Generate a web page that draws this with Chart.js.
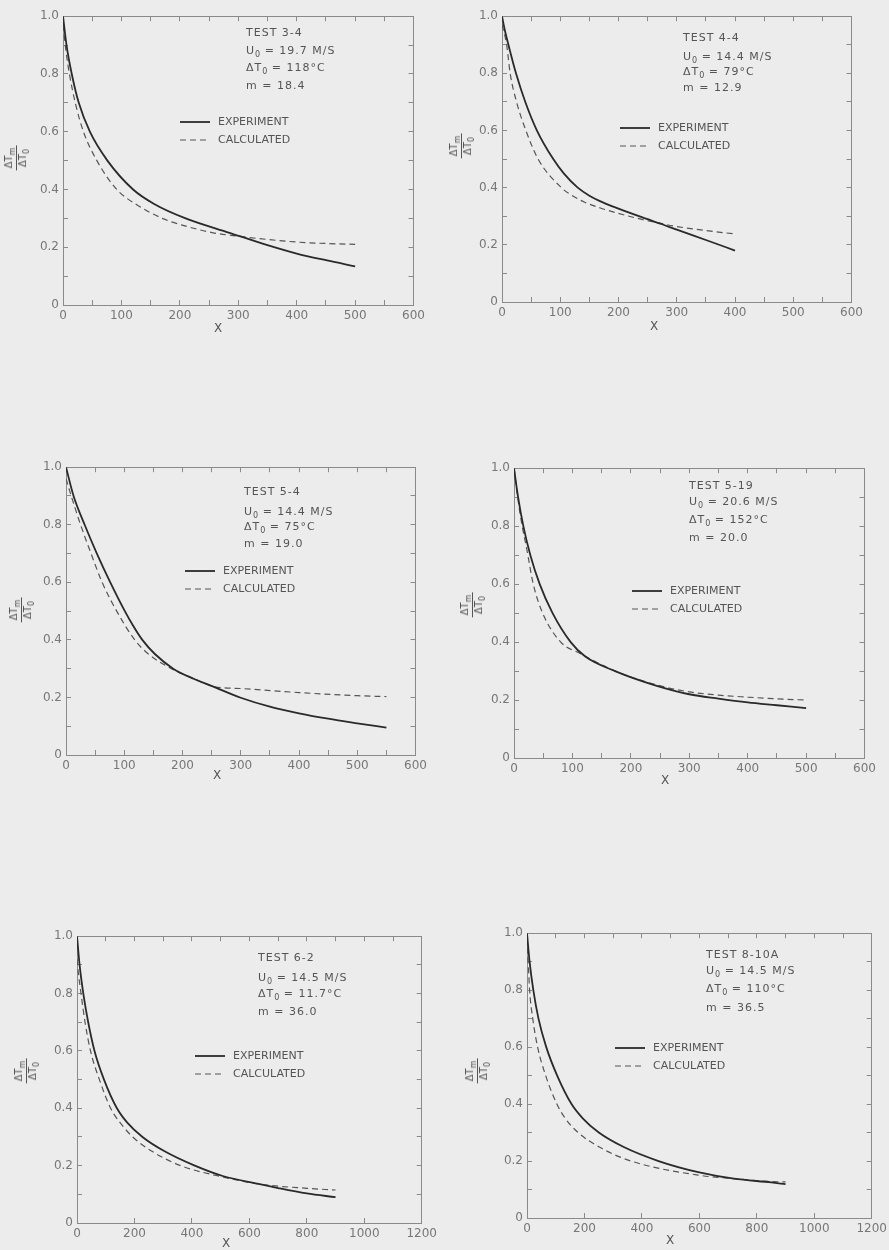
<!DOCTYPE html>
<html>
<head>
<meta charset="utf-8">
<script src="https://cdn.jsdelivr.net/npm/chart.js@4.4.1/dist/chart.umd.min.js"></script>
<style>
  html, body { margin: 0; padding: 0; }
  body { width: 889px; height: 1250px; background: #ececec; position: relative; overflow: hidden;
         font-family: 'DejaVu Sans', sans-serif; color: #555; }
  canvas { position: absolute; }
  .note { position: absolute; font-size: 11px; line-height: 14px; letter-spacing: 1px; white-space: nowrap; }
  .note sub, .ylab sub { font-size: 8px; vertical-align: -3px; line-height: 0; letter-spacing: 0; }
  .xlab { position: absolute; font-size: 12px; line-height: 14px; transform: translate(-50%, -50%); }
  .ylab { position: absolute; font-size: 10px; line-height: 12px; text-align: center; white-space: nowrap;
          transform: translate(-50%, -50%) rotate(-90deg); }
  .ylab .num { border-bottom: 1px solid #555; padding: 0 2px 1px; }
</style>
</head>
<body>
<script>
// panel info
const testNames = ['TEST 3-4', 'TEST 4-4', 'TEST 5-4', 'TEST 5-19', 'TEST 6-2', 'TEST 8-10A'];
const u0Values = ['19.7', '14.4', '14.4', '20.6', '14.5', '14.5'];
const dT0Values = ['118', '79', '75', '152', '11.7', '110'];
const mValues = ['18.4', '12.9', '19.0', '20.0', '36.0', '36.5'];
const xMaxes = [600, 600, 600, 600, 1200, 1200];
const xSteps = [50, 50, 50, 50, 100, 100];
const seriesNames = ['EXPERIMENT', 'CALCULATED'];

// test 3-4
const exp34X = [0, 6, 15, 27, 46, 76, 120, 156, 210, 285, 350, 400, 450, 500];
const exp34Y = [1.0, 0.90, 0.80, 0.70, 0.60, 0.50, 0.40, 0.35, 0.30, 0.25, 0.207, 0.178, 0.155, 0.134];
const calc34X = [0, 5, 11, 21, 35, 58, 92, 124, 170, 207, 257, 300, 350, 400, 450, 500];
const calc34Y = [0.97, 0.88, 0.80, 0.70, 0.60, 0.50, 0.40, 0.35, 0.30, 0.275, 0.25, 0.238, 0.227, 0.218, 0.213, 0.21];

// test 4-4
const exp44X = [0, 5, 11, 24, 40, 60, 88, 106, 130, 150, 175, 200, 240, 275, 300, 350, 400];
const exp44Y = [1.0, 0.95, 0.90, 0.80, 0.70, 0.60, 0.50, 0.45, 0.40, 0.372, 0.347, 0.327, 0.297, 0.272, 0.253, 0.217, 0.18];
const calc44X = [0, 8, 14, 25, 41, 62, 102, 120, 141, 170, 200, 240, 275, 300, 350, 400];
const calc44Y = [0.97, 0.90, 0.80, 0.70, 0.60, 0.50, 0.40, 0.373, 0.35, 0.328, 0.31, 0.289, 0.274, 0.264, 0.25, 0.238];

// test 5-4
const exp54X = [0, 13, 32, 53, 76, 101, 115, 131, 153, 184, 220, 255, 300, 350, 400, 450, 500, 550];
const exp54Y = [1.0, 0.90, 0.80, 0.70, 0.60, 0.50, 0.45, 0.40, 0.35, 0.30, 0.264, 0.236, 0.199, 0.168, 0.145, 0.126, 0.11, 0.095];
const calc54X = [0, 9, 25, 43, 62, 87, 118, 142, 181, 225, 255, 300, 400, 500, 550];
const calc54Y = [0.96, 0.90, 0.80, 0.70, 0.60, 0.50, 0.40, 0.35, 0.30, 0.26, 0.237, 0.231, 0.217, 0.206, 0.203];

// test 5-19
const exp519X = [0, 7, 16, 28, 44, 66, 97, 122, 173, 243, 300, 350, 400, 450, 500];
const exp519Y = [1.0, 0.90, 0.80, 0.70, 0.60, 0.50, 0.40, 0.35, 0.30, 0.25, 0.22, 0.205, 0.192, 0.182, 0.172];
const calc519X = [0, 7, 14, 21, 33, 49, 80, 114, 173, 243, 300, 350, 400, 450, 500];
const calc519Y = [1.0, 0.89, 0.80, 0.73, 0.60, 0.50, 0.40, 0.36, 0.30, 0.253, 0.228, 0.217, 0.21, 0.204, 0.2];

// test 6-2
const exp62X = [0, 9, 22, 39, 61, 94, 139, 175, 228, 305, 410, 510, 640, 700, 800, 900];
const exp62Y = [1.0, 0.90, 0.80, 0.70, 0.60, 0.50, 0.40, 0.35, 0.30, 0.25, 0.20, 0.163, 0.135, 0.122, 0.103, 0.09];
const calc62X = [0, 5, 14, 28, 47, 78, 117, 150, 194, 261, 361, 510, 640, 800, 900];
const calc62Y = [0.92, 0.87, 0.80, 0.70, 0.60, 0.50, 0.40, 0.35, 0.30, 0.25, 0.20, 0.16, 0.135, 0.121, 0.115];

// test 8-10A
const exp810X = [0, 9, 22, 40, 67, 105, 155, 194, 250, 335, 458, 600, 720, 850, 900];
const exp810Y = [1.0, 0.90, 0.80, 0.70, 0.60, 0.50, 0.40, 0.35, 0.30, 0.25, 0.20, 0.16, 0.138, 0.125, 0.119];
const calc810X = [0, 5, 9, 20, 37, 65, 104, 133, 178, 250, 362, 600, 720, 850, 900];
const calc810Y = [0.95, 0.88, 0.80, 0.70, 0.60, 0.50, 0.40, 0.35, 0.30, 0.25, 0.20, 0.15, 0.138, 0.128, 0.127];

const expX = [exp34X, exp44X, exp54X, exp519X, exp62X, exp810X];
const expY = [exp34Y, exp44Y, exp54Y, exp519Y, exp62Y, exp810Y];
const calcX = [calc34X, calc44X, calc54X, calc519X, calc62X, calc810X];
const calcY = [calc34Y, calc44Y, calc54Y, calc519Y, calc62Y, calc810Y];

// where things sit on the page (plot box, notes, legend, axis labels)
const boxes = [
    {l: 63, t: 12, r: 416, b: 305},
    {l: 502, t: 12, r: 854, b: 302},
    {l: 66, t: 463, r: 418, b: 755},
    {l: 514, t: 464, r: 867, b: 758},
    {l: 77, t: 932, r: 428, b: 1223},
    {l: 527, t: 929, r: 878, b: 1218},
];
const notePos = [
    {x: 246, y: [33, 51, 68, 86], lx: 180, ly: 122},
    {x: 683, y: [38, 57, 72, 88], lx: 620, ly: 128},
    {x: 244, y: [492, 512, 527, 544], lx: 185, ly: 571},
    {x: 689, y: [486, 502, 520, 538], lx: 632, ly: 591},
    {x: 258, y: [958, 978, 994, 1012], lx: 195, ly: 1056},
    {x: 706, y: [955, 971, 989, 1008], lx: 615, ly: 1048},
];
const xLabPos = [[218, 328], [654, 326], [217, 775], [665, 780], [226, 1243], [670, 1240]];
const yLabPos = [[16, 158], [461, 146], [21, 610], [472, 605], [26, 1071], [477, 1071]];

const padL = 62, padT = 12, padR = 18, padB = 38;

Chart.defaults.font.family = "'DejaVu Sans', sans-serif";
Chart.defaults.color = '#666';

function addDiv(cls, html, left, top) {
    const d = document.createElement('div');
    d.className = cls;
    d.innerHTML = html;
    d.style.left = left + 'px';
    d.style.top = top + 'px';
    document.body.appendChild(d);
    return d;
}

function toPoints(xs, ys) {
    return xs.map((x, i) => ({x: x, y: ys[i]}));
}

// legend drawn from the datasets: line sample + label
function legendPlugin(lx, ly) {
    return {
        id: 'lineLegend',
        afterDraw(chart) {
            const ctx = chart.ctx;
            ctx.save();
            ctx.font = "11px 'DejaVu Sans', sans-serif";
            ctx.textBaseline = 'middle';
            ctx.fillStyle = '#555';
            chart.data.datasets.forEach((ds, k) => {
                const y = ly + k * 18;
                ctx.strokeStyle = ds.borderColor;
                ctx.lineWidth = ds.borderWidth;
                ctx.setLineDash(ds.borderDash || []);
                ctx.beginPath();
                ctx.moveTo(lx, y);
                ctx.lineTo(lx + 30, y);
                ctx.stroke();
                ctx.setLineDash([]);
                ctx.fillText(ds.label, lx + 38, y + 0.5);
            });
            ctx.restore();
        }
    };
}

function makePanel(i) {
    const box = boxes[i];
    const canvas = document.createElement('canvas');
    const cw = box.r - box.l + padL + padR;
    const ch = box.b - box.t + padT + padB;
    const ox = box.l - padL, oy = box.t - padT;
    canvas.width = cw;
    canvas.height = ch;
    canvas.style.left = ox + 'px';
    canvas.style.top = oy + 'px';
    document.body.appendChild(canvas);

    const np = notePos[i];
    const xMax = xMaxes[i];
    const step = xSteps[i];
    const grid = {drawOnChartArea: false, drawTicks: true, tickLength: -5, color: '#8a8a8a'};
    const border = {display: true, color: '#8a8a8a', width: 1};

    new Chart(canvas, {
        type: 'line',
        data: {
            datasets: [{
                label: seriesNames[0],
                data: toPoints(expX[i], expY[i]),
                borderColor: '#2a2a2a',
                borderWidth: 1.8,
                pointRadius: 0,
                cubicInterpolationMode: 'monotone',
            }, {
                label: seriesNames[1],
                data: toPoints(calcX[i], calcY[i]),
                borderColor: '#555',
                borderWidth: 1.2,
                borderDash: [6, 4],
                pointRadius: 0,
                cubicInterpolationMode: 'monotone',
            }]
        },
        options: {
            responsive: false,
            animation: false,
            layout: {padding: 0, autoPadding: false},
            scales: {
                x: {
                    type: 'linear', position: 'bottom', min: 0, max: xMax,
                    grid: grid, border: border,
                    ticks: {
                        stepSize: step, padding: 9, color: '#777', maxRotation: 0,
                        font: {size: 12},
                        callback: (v) => (v % (2 * step) === 0 ? String(v) : ''),
                    },
                    afterFit: (s) => { s.height = padB; },
                },
                x2: {
                    type: 'linear', position: 'top', min: 0, max: xMax,
                    grid: grid, border: border,
                    ticks: {stepSize: step, display: false},
                    afterFit: (s) => { s.height = padT; },
                },
                y: {
                    type: 'linear', position: 'left', min: 0, max: 1,
                    grid: grid, border: border,
                    ticks: {
                        stepSize: 0.1, padding: 9, color: '#777',
                        font: {size: 12},
                        callback: (v) => {
                            const k = Math.round(v * 10);
                            if (k % 2 !== 0) return '';
                            return k === 0 ? '0' : (k / 10).toFixed(1);
                        },
                    },
                    afterFit: (s) => { s.width = padL; },
                },
                y2: {
                    type: 'linear', position: 'right', min: 0, max: 1,
                    grid: grid, border: border,
                    ticks: {stepSize: 0.1, display: false},
                    afterFit: (s) => { s.width = padR; },
                },
            },
            plugins: {
                legend: {display: false},
                tooltip: {enabled: false},
            },
        },
        plugins: [legendPlugin(np.lx - ox, np.ly - oy)],
    });

    // test conditions
    const lines = [
        testNames[i],
        'U<sub>0</sub> = ' + u0Values[i] + ' M/S',
        '&Delta;T<sub>0</sub> = ' + dT0Values[i] + '&deg;C',
        'm = ' + mValues[i],
    ];
    lines.forEach((txt, k) => {
        addDiv('note', txt, np.x, np.y[k] - 7);
    });

    addDiv('xlab', 'X', xLabPos[i][0], xLabPos[i][1]);
    addDiv('ylab', '<div class="num">&Delta;T<sub>m</sub></div><div>&Delta;T<sub>0</sub></div>',
        yLabPos[i][0], yLabPos[i][1]);
}

for (let i = 0; i < 6; i++) {
    makePanel(i);
}
</script>
</body>
</html>
